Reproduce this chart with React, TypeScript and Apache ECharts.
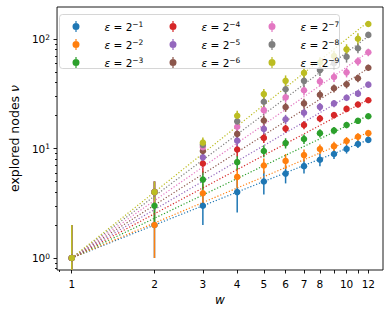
import React, { useEffect, useRef } from 'react';
import * as echarts from 'echarts';

// ---- data ----
const widths = [1, 2, 3, 4, 5, 6, 7, 8, 9, 10, 11, 12];
const epsExponents = [1, 2, 3, 4, 5, 6, 7, 8, 9];
const seriesColors = ['#1f77b4', '#ff7f0e', '#2ca02c', '#d62728', '#9467bd', '#8c564b', '#e377c2', '#7f7f7f', '#bcbd22'];

const nuEps1 = [1, 2, 3, 4, 5, 5.9, 6.9, 7.9, 8.9, 9.9, 11, 12];
const nuEps2 = [1, 2, 3.9, 5.5, 7.0, 7.7, 8.7, 9.9, 10.5, 11.7, 12.8, 13.8];
const nuEps3 = [1, 3, 5.2, 7.5, 9.5, 11.2, 12.2, 13.8, 14.6, 16.4, 17.9, 19.7];
const nuEps4 = [1, 4, 7.3, 9.8, 12.5, 15.2, 16.4, 18.8, 20.2, 23.0, 25.2, 27.6];
const nuEps5 = [1, 4, 8.3, 11.8, 15.1, 18.5, 21.2, 24.0, 25.8, 29.1, 31.7, 38.3];
const nuEps6 = [1, 4, 9.5, 13.6, 18.0, 23.9, 25.8, 31.0, 35.5, 38.6, 43.8, 54.7];
const nuEps7 = [1, 4, 10.3, 15.8, 22.4, 29.3, 34.0, 41.0, 45.0, 49.6, 62.5, 75.6];
const nuEps8 = [1, 4, 10.8, 17.7, 26.7, 34.8, 41.5, 52.0, 60.0, 68.9, 82.3, 109];
const nuEps9 = [1, 4, 11.3, 19.9, 31.4, 41.5, 49.0, 61.0, 70.0, 80.5, 100.6, 137];

const errEps1 = [1, 1, 1, 1.4, 1.2, 1.1, 1, 1, 0.9, 0.9, 0.9, 0.8];
const errEps2 = [1, 1, 0.9, 1.1, 1.1, 1.2, 1.1, 1, 1, 1, 1, 1];
const errEps3 = [1, 1, 1, 1.1, 1.2, 1.2, 1.2, 1.2, 1.1, 1.1, 1, 1];
const errEps4 = [1, 1, 1.3, 1.3, 1.3, 1.3, 1.4, 1.4, 1.4, 1.5, 1.5, 1.5];
const errEps5 = [1, 1, 1.3, 1.5, 1.6, 1.8, 2, 2, 2, 2, 2.2, 2.2];
const errEps6 = [1, 1, 1.3, 1.6, 2, 2.3, 2.6, 3, 3, 3.2, 3.5, 3.5];
const errEps7 = [1, 1, 1.3, 1.8, 2.3, 3, 3.5, 4, 4.5, 5, 5.5, 6];
const errEps8 = [1, 1, 1.3, 2, 3, 4, 5, 6, 7, 8, 8, 6];
const errEps9 = [1, 1, 1.3, 2.2, 3.5, 5, 6, 7, 8, 9, 12, 8];

// fitted power-law lines nu = w^a, value read at w = 12 (all start at w = 1, nu = 1)
const fitStart = [1, 1];
const fitAt12 = [12, 14, 20, 28, 38.5, 54, 76, 106, 144];

const xTickValues = [1, 2, 3, 4, 5, 6, 7, 8, 9, 10, 11, 12];
const xTickLabelValues = [1, 2, 3, 4, 5, 6, 7, 8, 10, 12];
const xMinorTickValues = [0.9];
const yMajorTickValues = [1, 10, 100];
const yMinorTickValues = [0.8, 0.9, 2, 3, 4, 5, 6, 7, 8, 9, 20, 30, 40, 50, 60, 70, 80, 90];

const X_RANGE = [0.884, 13.57];
const Y_RANGE = [0.777, 196];

const nuAll = [nuEps1, nuEps2, nuEps3, nuEps4, nuEps5, nuEps6, nuEps7, nuEps8, nuEps9];
const errAll = [errEps1, errEps2, errEps3, errEps4, errEps5, errEps6, errEps7, errEps8, errEps9];

const lg = (v: number) => Math.log10(v);
const FONT = 'DejaVu Sans';
const ERRBAR_ICON = 'path://M2.9,0H4.1V11H2.9Z M0,5.5A3.5,3.5 0 1 1 7,5.5A3.5,3.5 0 1 1 0,5.5Z';

export default function App() {
  const ref = useRef<HTMLDivElement>(null);
  useEffect(() => {
    if (!ref.current) return;
    const chart = echarts.init(ref.current, undefined, { renderer: 'svg' });
    const xMin = lg(X_RANGE[0]);
    const xMax = lg(X_RANGE[1]);
    const yMin = lg(Y_RANGE[0]);
    const yMax = lg(Y_RANGE[1]);

    const series: any[] = [];
    nuAll.forEach((nu, i) => {
      const color = seriesColors[i];
      const err = errAll[i];
      series.push({
        type: 'custom',
        name: 'err' + i,
        z: 2,
        silent: true,
        xAxisIndex: 0,
        yAxisIndex: 0,
        data: widths.map((w, j) => [lg(w), lg(Math.max(nu[j] - err[j], Y_RANGE[0])), lg(nu[j] + err[j])]),
        encode: { x: 0, y: [1, 2] },
        renderItem: (params: any, api: any) => {
          const a = api.coord([api.value(0), api.value(1)]);
          const b = api.coord([api.value(0), api.value(2)]);
          return {
            type: 'line',
            shape: { x1: a[0], y1: a[1], x2: b[0], y2: b[1] },
            style: { stroke: color, lineWidth: 1.5 },
          };
        },
      });
      series.push({
        type: 'line',
        name: 'fit' + i,
        z: 2,
        silent: true,
        xAxisIndex: 0,
        yAxisIndex: 0,
        symbol: 'none',
        data: [
          [lg(fitStart[0]), lg(fitStart[1])],
          [lg(12), lg(fitAt12[i])],
        ],
        lineStyle: { color, width: 1.2, type: [1.2, 1.9], cap: 'butt' },
      });
    });
    nuAll.forEach((nu, i) => {
      series.push({
        type: 'scatter',
        name: 'eps' + epsExponents[i],
        z: 3,
        xAxisIndex: 0,
        yAxisIndex: 0,
        symbol: 'circle',
        symbolSize: 6.5,
        itemStyle: { color: seriesColors[i], opacity: 1 },
        data: widths.map((w, j) => [lg(w), lg(nu[j])]),
      });
    });

    const legendCols = [[0, 1, 2], [3, 4, 5], [6, 7, 8]];
    const legendLefts = [72.5, 169.5, 268.5];
    const legend = legendCols.map((col, c) => ({
      show: true,
      orient: 'vertical',
      left: legendLefts[c],
      top: 20.5,
      padding: 0,
      itemGap: 6.5,
      itemWidth: 32,
      itemHeight: 11,
      selectedMode: false,
      z: 11,
      data: col.map((i) => ({ name: 'eps' + epsExponents[i], icon: ERRBAR_ICON })),
      formatter: (name: string) => `{e|ε}{t| = 2}{s|−${name.slice(3)}}`,
      textStyle: {
        color: '#000',
        fontFamily: FONT,
        fontSize: 10.5,
        rich: {
          e: { fontStyle: 'italic', fontFamily: FONT, fontSize: 10.5, color: '#000', lineHeight: 12, padding: [0, 0, 0, 7.5] },
          t: { fontFamily: FONT, fontSize: 10.5, color: '#000', lineHeight: 12 },
          s: { fontFamily: FONT, fontSize: 7.5, color: '#000', verticalAlign: 'top', lineHeight: 8 },
        },
      },
    }));

    const tickLine = { color: '#000', width: 0.9 };
    const noLine = { show: false, onZero: false };

    chart.setOption({
      animation: false,
      backgroundColor: '#fff',
      grid: {
        left: 54,
        right: 9,
        top: 7,
        bottom: 45,
        show: true,
        borderColor: '#000',
        borderWidth: 0.9,
        backgroundColor: 'transparent',
        containLabel: false,
      },
      graphic: [
        {
          type: 'rect',
          z: 10,
          silent: true,
          shape: { x: 59.5, y: 14.5, width: 280, height: 54, r: 3 },
          style: { fill: 'rgba(255,255,255,0.8)', stroke: 'rgba(204,204,204,0.8)', lineWidth: 1 },
        },
      ],
      legend,
      xAxis: [
        {
          type: 'value',
          position: 'bottom',
          min: xMin,
          max: xMax,
          axisLine: noLine,
          splitLine: { show: false },
          axisTick: { show: true, customValues: xTickValues.map(lg), length: 3.5, lineStyle: tickLine },
          axisLabel: {
            customValues: xTickLabelValues.map(lg),
            formatter: (v: number) => String(Math.round(Math.pow(10, v))),
            color: '#000',
            fontFamily: FONT,
            fontSize: 10.5,
            margin: 8,
          },
          name: 'w',
          nameLocation: 'middle',
          nameGap: 23,
          nameTextStyle: { fontStyle: 'italic', fontFamily: FONT, fontSize: 12, color: '#000' },
        },
        {
          type: 'value',
          position: 'bottom',
          min: xMin,
          max: xMax,
          axisLine: noLine,
          splitLine: { show: false },
          axisTick: { show: true, customValues: xMinorTickValues.map(lg), length: 2, lineStyle: tickLine },
          axisLabel: { show: false },
        },
      ],
      yAxis: [
        {
          type: 'value',
          position: 'left',
          min: yMin,
          max: yMax,
          axisLine: noLine,
          splitLine: { show: false },
          axisTick: { show: true, customValues: yMajorTickValues.map(lg), length: 3.5, lineStyle: tickLine },
          axisLabel: {
            customValues: yMajorTickValues.map(lg),
            formatter: (v: number) => `{b|10}{s|${Math.round(v)}}`,
            margin: 7,
            rich: {
              b: { fontFamily: FONT, fontSize: 10.5, color: '#000', lineHeight: 12 },
              s: { fontFamily: FONT, fontSize: 7.5, color: '#000', verticalAlign: 'top', lineHeight: 8 },
            },
          },
          name: 'explored nodes {i|ν}',
          nameLocation: 'middle',
          nameGap: 33,
          nameRotate: 90,
          nameTextStyle: {
            fontFamily: FONT,
            fontSize: 12.5,
            color: '#000',
            rich: { i: { fontStyle: 'italic', fontFamily: FONT, fontSize: 12.5, color: '#000' } },
          },
        },
        {
          type: 'value',
          position: 'left',
          min: yMin,
          max: yMax,
          axisLine: noLine,
          splitLine: { show: false },
          axisTick: { show: true, customValues: yMinorTickValues.map(lg), length: 2, lineStyle: tickLine },
          axisLabel: { show: false },
        },
      ],
      series,
    });
    return () => chart.dispose();
  }, []);
  return <div ref={ref} style={{ position: 'fixed', left: 0, top: 0, width: 392, height: 315 }} />;
}
